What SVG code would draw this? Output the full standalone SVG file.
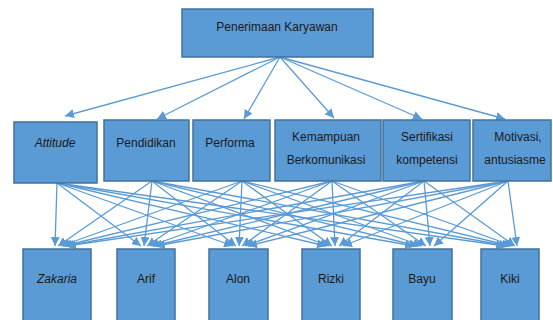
<svg xmlns="http://www.w3.org/2000/svg" width="553" height="320" viewBox="0 0 553 320">
<style>
.box{fill:#5B9BD5;stroke:#41719C;stroke-width:1.5}
.t{font-family:"Liberation Sans",Arial,sans-serif;font-size:12px;fill:#1a1a1a;text-anchor:middle}
.i{font-style:italic}
.c{stroke:#5B9BD5;stroke-width:1.3;fill:none;marker-end:url(#ah)}
</style>
<defs>
<marker id="ah" markerUnits="userSpaceOnUse" markerWidth="10" markerHeight="9" refX="9" refY="4.5" orient="auto">
<path d="M0,0 L9,4.5 L0,9 Z" fill="#5B9BD5"/>
</marker>
</defs>
<rect width="553" height="320" fill="#ffffff"/>
<g id="connectors">
<line class="c" x1="280" y1="57" x2="65" y2="116"/>
<line class="c" x1="280" y1="57" x2="157" y2="119"/>
<line class="c" x1="280" y1="57" x2="244" y2="119"/>
<line class="c" x1="280" y1="57" x2="334" y2="118"/>
<line class="c" x1="280" y1="57" x2="422" y2="119"/>
<line class="c" x1="280" y1="57" x2="505" y2="119"/>
<!-- Attitude -->
<line class="c" x1="57" y1="183" x2="55" y2="246"/>
<line class="c" x1="57" y1="183" x2="141" y2="246"/>
<line class="c" x1="57" y1="183" x2="233" y2="246"/>
<line class="c" x1="57" y1="183" x2="326" y2="246"/>
<line class="c" x1="57" y1="183" x2="414" y2="246"/>
<line class="c" x1="57" y1="183" x2="505" y2="246"/>
<!-- Pendidikan -->
<line class="c" x1="152" y1="181" x2="58" y2="246"/>
<line class="c" x1="152" y1="181" x2="144" y2="246"/>
<line class="c" x1="152" y1="181" x2="236" y2="246"/>
<line class="c" x1="152" y1="181" x2="329" y2="246"/>
<line class="c" x1="152" y1="181" x2="418" y2="246"/>
<line class="c" x1="152" y1="181" x2="508" y2="246"/>
<!-- Performa -->
<line class="c" x1="242" y1="181" x2="61" y2="246"/>
<line class="c" x1="242" y1="181" x2="147" y2="246"/>
<line class="c" x1="242" y1="181" x2="239" y2="246"/>
<line class="c" x1="242" y1="181" x2="332" y2="246"/>
<line class="c" x1="242" y1="181" x2="422" y2="246"/>
<line class="c" x1="242" y1="181" x2="511" y2="246"/>
<!-- Kemampuan -->
<line class="c" x1="332" y1="181" x2="63" y2="246"/>
<line class="c" x1="332" y1="181" x2="150" y2="246"/>
<line class="c" x1="332" y1="181" x2="242" y2="246"/>
<line class="c" x1="332" y1="181" x2="335" y2="246"/>
<line class="c" x1="332" y1="181" x2="426" y2="246"/>
<line class="c" x1="332" y1="181" x2="513" y2="246"/>
<!-- Sertifikasi -->
<line class="c" x1="424" y1="181" x2="65" y2="246"/>
<line class="c" x1="424" y1="181" x2="153" y2="246"/>
<line class="c" x1="424" y1="181" x2="245" y2="246"/>
<line class="c" x1="424" y1="181" x2="339" y2="246"/>
<line class="c" x1="424" y1="181" x2="430" y2="246"/>
<line class="c" x1="424" y1="181" x2="515" y2="246"/>
<!-- Motivasi -->
<line class="c" x1="508" y1="181" x2="67" y2="246"/>
<line class="c" x1="508" y1="181" x2="156" y2="246"/>
<line class="c" x1="508" y1="181" x2="248" y2="246"/>
<line class="c" x1="508" y1="181" x2="343" y2="246"/>
<line class="c" x1="508" y1="181" x2="434" y2="246"/>
<line class="c" x1="508" y1="181" x2="517" y2="246"/>
</g>
<g id="penerimaan">
<rect class="box" x="182" y="9" width="191" height="48"/>
<text class="t" x="277" y="31">Penerimaan Karyawan</text>
</g>
<g id="attitude">
<rect class="box" x="14" y="122" width="83" height="61"/>
<text class="t i" x="55" y="147">Attitude</text>
</g>
<g id="pendidikan">
<rect class="box" x="104" y="120" width="85" height="61"/>
<text class="t" x="146" y="147">Pendidikan</text>
</g>
<g id="performa">
<rect class="box" x="193" y="120" width="77" height="61"/>
<text class="t" x="230" y="147">Performa</text>
</g>
<g id="kemampuan">
<rect class="box" x="275" y="120" width="106" height="61"/>
<text class="t" x="326" y="141">Kemampuan</text>
<text class="t" x="326" y="164">Berkomunikasi</text>
</g>
<g id="sertifikasi">
<rect class="box" x="383" y="120" width="87" height="61"/>
<text class="t" x="427" y="141">Sertifikasi</text>
<text class="t" x="427" y="164">kompetensi</text>
</g>
<g id="motivasi">
<rect class="box" x="473" y="120" width="78" height="61"/>
<text class="t" x="518" y="141">Motivasi,</text>
<text class="t" x="515" y="164">antusiasme</text>
</g>
<g id="zakaria">
<rect class="box" x="23" y="249" width="68" height="80"/>
<text class="t i" x="57" y="283">Zakaria</text>
</g>
<g id="arif">
<rect class="box" x="117" y="249" width="58" height="80"/>
<text class="t" x="146" y="283">Arif</text>
</g>
<g id="alon">
<rect class="box" x="209" y="249" width="59" height="80"/>
<text class="t" x="238" y="283">Alon</text>
</g>
<g id="rizki">
<rect class="box" x="302" y="249" width="58" height="80"/>
<text class="t" x="331" y="283">Rizki</text>
</g>
<g id="bayu">
<rect class="box" x="393" y="249" width="59" height="80"/>
<text class="t" x="422" y="283">Bayu</text>
</g>
<g id="kiki">
<rect class="box" x="481" y="249" width="58" height="80"/>
<text class="t" x="510" y="283">Kiki</text>
</g>
</svg>
